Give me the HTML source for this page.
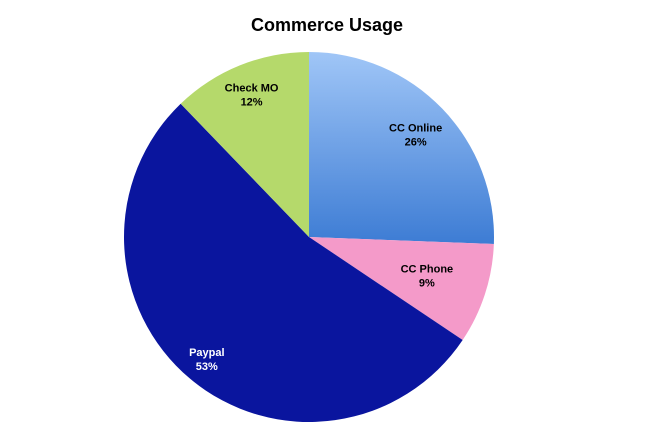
<!DOCTYPE html>
<html><head><meta charset="utf-8"><style>
body{margin:0;background:#fff;}
svg{display:block;font-family:"Liberation Sans",sans-serif;}
</style></head><body>
<svg id="chart" width="655" height="432" viewBox="0 0 655 432">
<defs>
<linearGradient id="gOnline" x1="0" y1="0" x2="0" y2="1">
<stop offset="0" stop-color="#a0c6f7"/><stop offset="1" stop-color="#3d7cd4"/>
</linearGradient>
</defs>
<text x="327" y="31" text-anchor="middle" font-size="18" font-weight="bold" fill="#000">Commerce Usage</text>
<g id="slices"></g>
<g id="labels"></g>
</svg>
<script>
const categories = ["CC Online", "CC Phone", "Paypal", "Check MO"];
const values = [25.6, 8.8, 53.4, 12.2];
const colors = ["url(#gOnline)", "#f49ac9", "#0a159e", "#b5d96b"];
const labelRadius = [0.8, 0.67, 0.86, 0.83];
const cx = 309, cy = 237, R = 185;
const ns = "http://www.w3.org/2000/svg";
const total = values.reduce((a,b)=>a+b,0);
const sg = document.getElementById('slices');
const lg = document.getElementById('labels');
function pt(a, r){ return [cx + r*Math.sin(a), cy - r*Math.cos(a)]; }
let acc = 0;
values.forEach((v,i)=>{
  const a0 = acc/total*2*Math.PI, a1 = (acc+v)/total*2*Math.PI;
  acc += v;
  const p0 = pt(a0,R), p1 = pt(a1,R);
  const large = (a1-a0) > Math.PI ? 1 : 0;
  const path = document.createElementNS(ns,'path');
  path.setAttribute('d', `M${cx},${cy} L${p0[0]},${p0[1]} A${R},${R} 0 ${large} 1 ${p1[0]},${p1[1]} Z`);
  path.setAttribute('fill', colors[i]);
  
  
  sg.appendChild(path);
  const am = (a0+a1)/2;
  const lp = pt(am, R*labelRadius[i]);
  const t = document.createElementNS(ns,'text');
  t.setAttribute('x', lp[0]); t.setAttribute('y', lp[1]-3);
  t.setAttribute('text-anchor','middle'); t.setAttribute('font-size','11');
  t.setAttribute('font-weight','bold');
  t.setAttribute('fill', i===2 ? '#ffffff' : '#000000');
  
  
  const s1 = document.createElementNS(ns,'tspan');
  s1.setAttribute('x', lp[0]); s1.textContent = categories[i];
  const s2 = document.createElementNS(ns,'tspan');
  s2.setAttribute('x', lp[0]); s2.setAttribute('dy','14');
  s2.textContent = Math.round(v/total*100) + '%';
  t.appendChild(s1); t.appendChild(s2);
  lg.appendChild(t);
});
</script>
</body></html>
